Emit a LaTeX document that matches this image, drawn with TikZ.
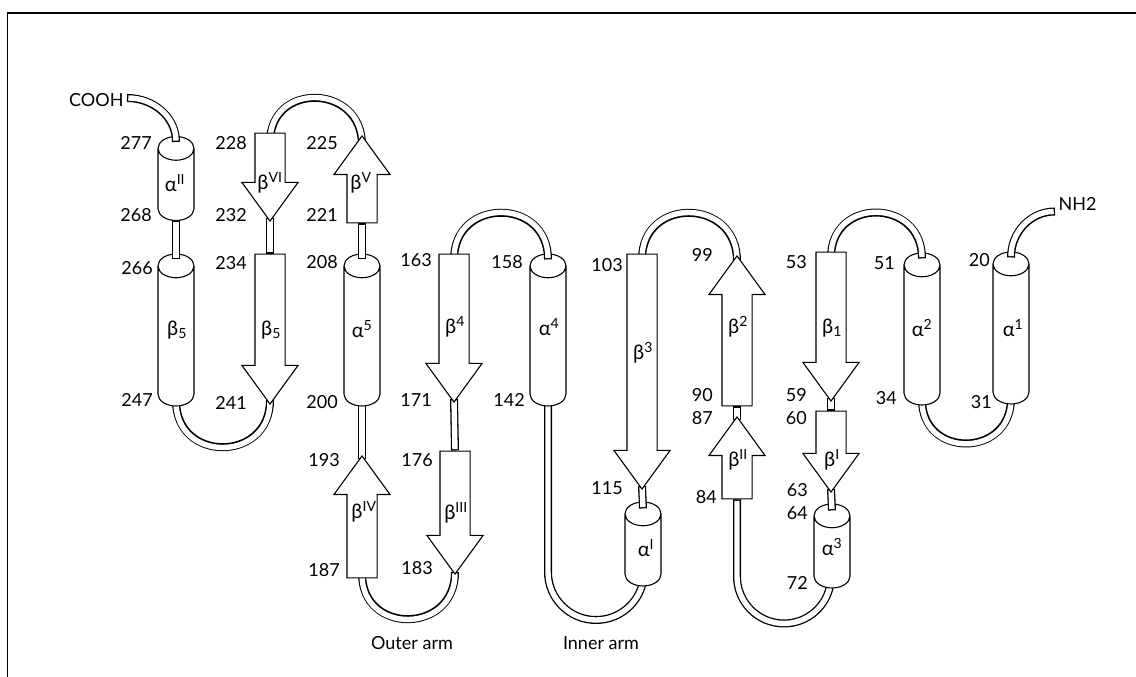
\documentclass[tikz,border=0pt]{standalone}
\usepackage{fontspec}
\setmainfont{Lato}
\usetikzlibrary{shapes.geometric, shapes.arrows}

\pgfdeclarelayer{tubes}
\pgfdeclarelayer{helices}
\pgfdeclarelayer{links}
\pgfsetlayers{tubes,helices,links,main}

\begin{document}
\begin{tikzpicture}[
  x=1pt, y=1pt,
  font=\fontsize{18}{20}\selectfont,
  helix/.style={cylinder, shape border rotate=90, draw, fill=white,
                line width=1.1pt, inner sep=18pt, minimum width=36pt,
                aspect=0.66, anchor=shape center, minimum height=#1},
  strand/.style={single arrow, draw, fill=white, line width=1.1pt,
                 inner sep=14.5pt, minimum width=55pt,
                 single arrow head extend=13pt, single arrow tip angle=72,
                 anchor=tip},
  sdown/.style={strand, shape border rotate=270, minimum height=#1},
  supp/.style={strand, shape border rotate=90, minimum height=#1},
  tube/.style={line width=8pt, postaction={draw=white, line width=5.4pt,
               shorten <=1.3pt, shorten >=1.3pt}},
  num/.style={anchor=east, inner sep=0pt},
  sse/.style={inner sep=0pt, font=\fontsize{20}{22}\selectfont}
]
\useasboundingbox (0,0) rectangle (1136,677);
\draw[line width=1.8pt] (7.5,-5) |- (1145,663.7);

% helices
\begin{pgfonlayer}{helices}
  \node[helix=84]  (aII) at (176,498.5) {};
  \node[helix=152] (c5)  at (176,347) {};
  \node[helix=152] (a5)  at (362,347) {};
  \node[helix=152] (a4)  at (548,347) {};
  \node[helix=84]  (aI)  at (643,133) {};
  \node[helix=84]  (a3)  at (832,131) {};
  \node[helix=152] (a2)  at (922,348) {};
  \node[helix=152] (a1)  at (1011,349) {};
\end{pgfonlayer}

% strands
\node[sdown=88]  (bVI)  at (270,455) {};
\node[supp=87]   (bV)   at (362,542) {};
\node[sdown=150] (b5)   at (270,272) {};
\node[sdown=148] (b4)   at (454,274) {};
\node[supp=122]  (bIV)  at (362,222) {};
\node[sdown=123] (bIII) at (455,102) {};
\node[sdown=235] (b3)   at (642,187) {};
\node[supp=150]  (b2)   at (737,422) {};
\node[supp=82]   (bII)  at (737,261) {};
\node[sdown=149] (b1)   at (831,275) {};
\node[sdown=81]  (bI)   at (831,184) {};

\node[anchor=west] (nh2)  at (1055,473.5) {NH2};
\node[anchor=east] (cooh) at (127,577) {COOH};

% loops behind the shapes
\begin{pgfonlayer}{tubes}
  \draw[tube] ([yshift=6pt]a1.bottom) to[out=-90, in=-90, looseness=1.7] ([yshift=6pt]a2.bottom);
  \draw[tube] ([yshift=5pt]b5.tip) to[out=-90, in=-90, looseness=1.7] ([yshift=6pt]c5.bottom);
  \draw[tube] ([yshift=3pt]bIII.tip) to[out=-90, in=-90, looseness=1.7] ([yshift=5pt]bIV.tail);
  \draw[tube] (a4.shape center) -- ++(0,-242) arc[start angle=180, end angle=342, radius=48] -- (aI.shape center);
  \draw[tube] (bII.tail) -- ++(0,-77) arc[start angle=180, end angle=345, radius=47] -- (a3.shape center);
  \draw[tube] ([yshift=4pt]b1.tip) -- (bI.tail);
  \draw[tube] ([yshift=-4pt]bII.tip) -- (b2.tail);
  \draw[tube] ([yshift=4pt]b4.tip) -- (bIII.tail);
  \draw[tube] ([yshift=4pt]bVI.tip) -- (b5.tail);
  \draw[tube] ([yshift=-4pt]bIV.tip) -- ([yshift=5pt]a5.bottom);
  \draw[tube] ([yshift=-10pt]bV.tip) to[out=90, in=90, looseness=1.7] ([yshift=-10pt]bVI.tail);
  \draw[tube] ([yshift=-6pt]b2.tip) to[out=90, in=90, looseness=1.7] ([yshift=-6pt]b3.tail);
\end{pgfonlayer}

% loops entering helix tops
\begin{pgfonlayer}{links}
  \draw[tube] ([yshift=-8pt]nh2.west) to[out=180, in=90] ([yshift=-6pt]a1.top);
  \draw[tube] ([yshift=-6pt]b1.tail) to[out=90, in=90, looseness=1.7] ([yshift=-6pt]a2.top);
  \draw[tube] ([yshift=4pt]bI.tip) -- ([yshift=-7pt]a3.top);
  \draw[tube] ([yshift=4pt]b3.tip) -- ([yshift=-7pt]aI.top);
  \draw[tube] ([yshift=-6pt]b4.tail) to[out=90, in=90, looseness=1.7] ([yshift=-6pt]a4.top);
  \draw[tube] (bV.tail) -- ([yshift=-6pt]a5.top);
  \draw[tube] (aII.bottom) -- ([yshift=-6pt]c5.top);
  \draw[tube] ([yshift=2pt]cooh.east) to[out=0, in=90] ([yshift=-6pt]aII.top);
\end{pgfonlayer}

% residue numbers
\foreach \x/\y/\t in {152/534/277, 152/462/268, 247/534/228, 247/462/232,
    338/534/225, 338/462/221, 153/409/266, 153/277/247, 247/414/234,
    247/274/241, 338/415/208, 338/275/200, 340/217/193, 340/107/187,
    432/417/163, 432/277/171, 433/217/176, 433/109/183, 523/415/158,
    525/277/142, 623/412/103, 623/189/115, 713/422/99, 713/282/90,
    713/259/87, 717/180/84, 807/415/53, 807/282/59, 807/259/60,
    808/187/63, 808/164/64, 808/94/72, 895/414/51, 897/279/34,
    990/417/20, 992/275/31}
  \node[num] (n\t) at (\x,\y) {\t};

% element names
\foreach \n/\x/\y/\t in {
    aII/175/494/{α\textsuperscript{II}}, bVI/270/494/{β\textsuperscript{VI}},
    bV/361/494/{β\textsuperscript{V}}, c5/177/347/{β\textsubscript{5}},
    b5/271/347/{β\textsubscript{5}}, a5/362/348/{α\textsuperscript{5}},
    b4/455/350/{β\textsuperscript{4}}, a4/549/350/{α\textsuperscript{4}},
    b3/643/324/{β\textsuperscript{3}}, b2/738/350/{β\textsuperscript{2}},
    b1/832/349/{β\textsubscript{1}}, a2/922/349/{α\textsuperscript{2}},
    a1/1013/349/{α\textsuperscript{1}}, bIV/364/165/{β\textsuperscript{IV}},
    bIII/456/164/{β\textsuperscript{III}}, aI/646/129/{α\textsuperscript{I}},
    bII/738/217/{β\textsuperscript{II}}, bI/832/217/{β\textsuperscript{I}},
    a3/832/130/{α\textsuperscript{3}}}
  \node[sse] (l\n) at (\x,\y) {\t};

\node (outer) at (412,34) {Outer arm};
\node (inner) at (601,34) {Inner arm};
\end{tikzpicture}
\end{document}
